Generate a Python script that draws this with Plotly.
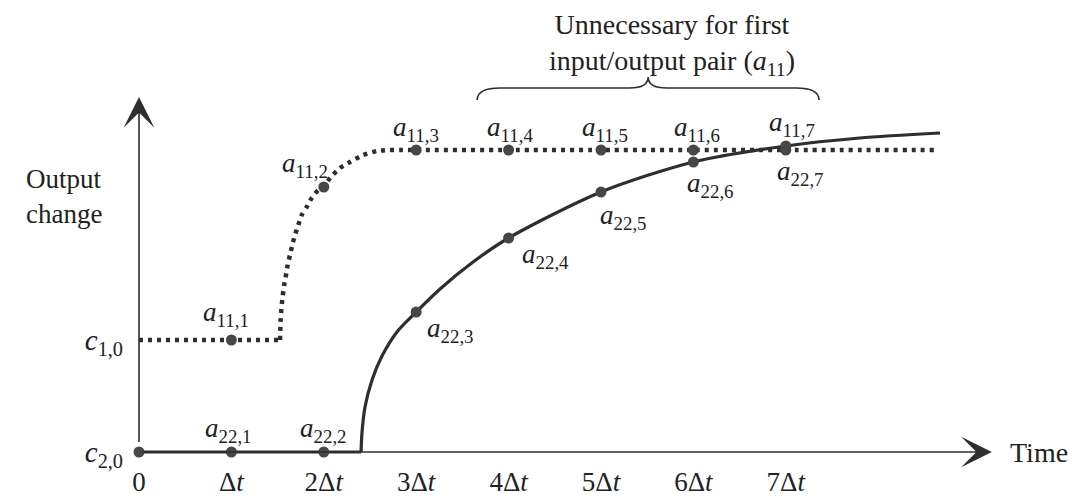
import plotly.graph_objects as go

# ---------------- data ----------------
steps = [0, 1, 2, 3, 4, 5, 6, 7]
x_tick_text = ["0", "Δ<i>t</i>", "2Δ<i>t</i>", "3Δ<i>t</i>", "4Δ<i>t</i>",
               "5Δ<i>t</i>", "6Δ<i>t</i>", "7Δ<i>t</i>"]

c10 = 1.12   # initial level of output 1
c20 = 0.0    # initial level of output 2
y_tick_vals = [c20, c10]
y_tick_text = ["<i>c</i><sub>2,0</sub>", "<i>c</i><sub>1,0</sub>"]

# step response coefficients at steps 1..7
a11 = [1.12, 2.65, 3.02, 3.02, 3.02, 3.02, 3.02]
a22 = [0.0, 0.0, 1.40, 2.14, 2.60, 2.90, 3.06]

# continuous responses
dotted_t = [0, 1.526, 1.534, 1.543, 1.554, 1.571, 1.591, 1.609, 1.634, 1.659,
            1.688, 1.724, 1.761, 1.815, 1.869, 1.94, 2.0, 2.067, 2.175, 2.284,
            2.424, 2.576, 2.684, 2.825, 3, 4, 5, 6, 7, 8.64]
dotted_y = [1.12, 1.12, 1.34, 1.45, 1.55, 1.67, 1.77, 1.87, 1.97, 2.07,
            2.17, 2.27, 2.37, 2.45, 2.54, 2.62, 2.65, 2.74, 2.84, 2.90,
            2.97, 3.01, 3.02, 3.02, 3.02, 3.02, 3.02, 3.02, 3.02, 3.02]

solid_t = [0, 2.403, 2.413, 2.446, 2.522, 2.63, 2.80, 3.0, 3.258, 3.615,
           4.0, 5.0, 6.0, 7.0, 7.8, 8.67]
solid_y = [0, 0, 0.19, 0.45, 0.72, 0.96, 1.21, 1.40, 1.63, 1.90,
           2.14, 2.60, 2.90, 3.06, 3.14, 3.19]

time_axis_end = 9.23
output_axis_end = 3.55
brace_span = (3.66, 7.36)
brace_levels = (3.52, 3.64, 3.75)

# ---------------- style ----------------
FONT = "Liberation Serif"
INK = "#222222"
LINE = "#2e2e2e"
DOT = "#474747"
LBL = 27
A11_OFF = [(-5, 26), (-19, 22), (0, 21), (1, 21), (4, 21), (4, 21), (6, 26)]
A22_OFF = [(-3, 22), (0, 22), (34, -18), (37, -18), (22, -25), (17, -23), (15, -27)]

fig = go.Figure()

# dotted response (output 1)
fig.add_trace(go.Scatter(x=dotted_t[:2], y=dotted_y[:2], mode="lines",
                         line=dict(color=LINE, width=4.5, dash="4px,5px"),
                         hoverinfo="skip", showlegend=False))
fig.add_trace(go.Scatter(x=dotted_t[1:], y=dotted_y[1:], mode="lines",
                         line=dict(color=LINE, width=4.5, dash="4px,5px",
                                   shape="spline", smoothing=0.6),
                         hoverinfo="skip", showlegend=False))
# solid response (output 2)
fig.add_trace(go.Scatter(x=solid_t[:2], y=solid_y[:2], mode="lines",
                         line=dict(color=LINE, width=3.2),
                         hoverinfo="skip", showlegend=False, cliponaxis=False))
fig.add_trace(go.Scatter(x=solid_t[1:], y=solid_y[1:], mode="lines",
                         line=dict(color=LINE, width=3.2, shape="spline",
                                   smoothing=0.8),
                         hoverinfo="skip", showlegend=False, cliponaxis=False))
# sample points
fig.add_trace(go.Scatter(x=steps[1:], y=a11, mode="markers",
                         marker=dict(color=DOT, size=11),
                         showlegend=False, cliponaxis=False))
fig.add_trace(go.Scatter(x=steps, y=[c20] + a22, mode="markers",
                         marker=dict(color=DOT, size=11),
                         showlegend=False, cliponaxis=False))

ann = []
# axes with arrow heads
ann.append(dict(x=time_axis_end, y=0, ax=0, ay=0, xref="x", yref="y",
                axref="x", ayref="y", text=" ", showarrow=True, arrowhead=3,
                arrowsize=3.2, arrowwidth=1.6, arrowcolor=LINE, standoff=0))
ann.append(dict(x=0, y=output_axis_end, ax=0, ay=0, xref="x", yref="y",
                axref="x", ayref="y", text=" ", showarrow=True, arrowhead=3,
                arrowsize=3.2, arrowwidth=1.6, arrowcolor=LINE, standoff=0))

# point labels
for k, v, (dx, dy) in zip(steps[1:], a11, A11_OFF):
    ann.append(dict(x=k, y=v, xref="x", yref="y", showarrow=False,
                    text=f"<i>a</i><sub>11,{k}</sub>", xshift=dx, yshift=dy,
                    font=dict(family=FONT, size=LBL, color=INK)))
for k, v, (dx, dy) in zip(steps[1:], a22, A22_OFF):
    ann.append(dict(x=k, y=v, xref="x", yref="y", showarrow=False,
                    text=f"<i>a</i><sub>22,{k}</sub>", xshift=dx, yshift=dy,
                    font=dict(family=FONT, size=LBL, color=INK)))

# axis titles / notes
ann.append(dict(x=-0.026, y=0.574, xref="paper", yref="paper", showarrow=False,
                text="Output<br>change", xanchor="right", align="left",
                font=dict(family=FONT, size=27, color=INK)))
ann.append(dict(x=0.927, y=0, xref="paper", yref="y", showarrow=False,
                text="Time", xanchor="left", yanchor="middle",
                font=dict(family=FONT, size=28, color=INK)))
ann.append(dict(x=(brace_span[0] + brace_span[1]) / 2 + 0.26, y=3.75,
                xref="x", yref="y", showarrow=False, yanchor="bottom", yshift=-5,
                text="Unnecessary for first<br>input/output pair (<i>a</i><sub>11</sub>)",
                font=dict(family=FONT, size=28, color=INK)))

# curly brace over steps 4..7
x0, x1 = brace_span
xm = (x0 + x1) / 2
yb, yh, yc = brace_levels
brace = (f"M {x0},{yb} Q {x0},{yh} {x0+0.25},{yh} L {xm-0.2},{yh} "
         f"Q {xm},{yh} {xm},{yc} Q {xm},{yh} {xm+0.2},{yh} "
         f"L {x1-0.25},{yh} Q {x1},{yh} {x1},{yb}")

fig.update_layout(
    width=1077, height=499,
    margin=dict(l=129, r=0, t=0, b=37),
    paper_bgcolor="white", plot_bgcolor="white",
    annotations=ann,
    shapes=[dict(type="path", path=brace, xref="x", yref="y",
                 line=dict(color=LINE, width=1.6))],
    xaxis=dict(range=[-10 / 92.4, (1077 - 139) / 92.4], showgrid=False,
               zeroline=False, showline=False, tickvals=steps,
               ticktext=x_tick_text, ticks="", ticklabelstandoff=1,
               tickfont=dict(family=FONT, size=27, color=INK)),
    yaxis=dict(range=[-0.10, 4.52], showgrid=False, zeroline=False,
               showline=False, tickvals=y_tick_vals, ticktext=y_tick_text,
               ticks="", ticklabelstandoff=5,
               tickfont=dict(family=FONT, size=29, color=INK)),
)

fig.write_html("out.html", config={"displayModeBar": False},
               post_script="document.body.style.margin='0';"
                           "document.body.style.overflow='hidden';")
